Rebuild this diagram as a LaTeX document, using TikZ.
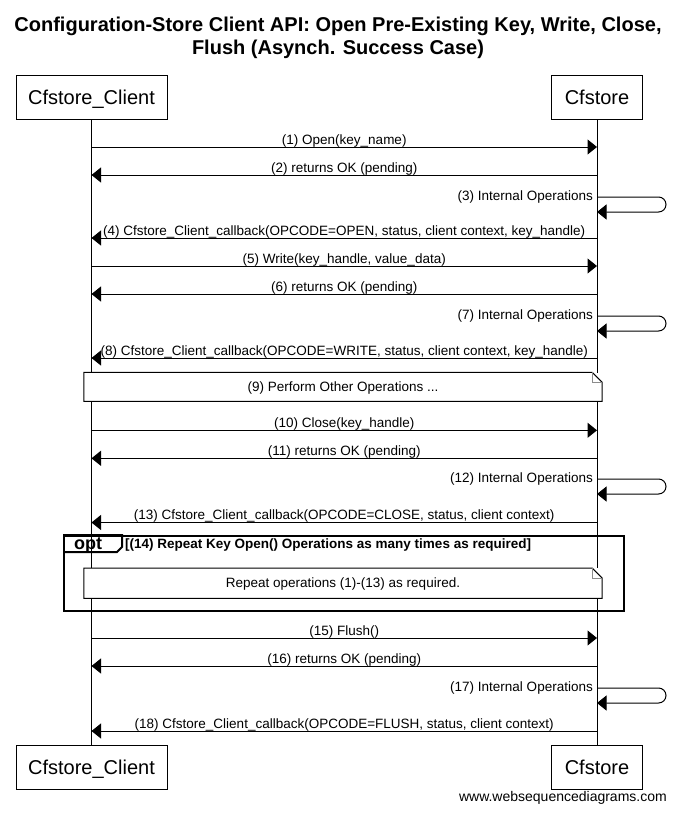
\documentclass[tikz,border=0pt]{standalone}
\usepackage{fontspec}
\setmainfont{Liberation Sans}
\usetikzlibrary{arrows.meta}

% x positions of the two lifelines and the middle between them
\def\xc{91.5}
\def\xs{597}
\def\xm{344.25}

% message from client to store: id, y, label
\newcommand\sdright[3]{%
  \coordinate (#1a) at (\xc,#2);
  \coordinate (#1b) at (\xs,#2);
  \draw[msg] (#1a) -- (#1b);
  \node[msglbl, anchor=base] (#1t) at (\xm,#2-3) {#3};
}
% message from store back to client: id, y, label
\newcommand\sdleft[3]{%
  \coordinate (#1a) at (\xc,#2);
  \coordinate (#1b) at (\xs,#2);
  \draw[msg] (#1b) -- (#1a);
  \node[msglbl, anchor=base] (#1t) at (\xm,#2-3) {#3};
}
% message from the store to itself: id, top y, label
\newcommand\sdself[3]{%
  \coordinate (#1a) at (\xs,#2);
  \coordinate (#1b) at (\xs,#2+15);
  \draw[msg, rounded corners=7.5pt] (#1a) -- ++(69,0) -- ++(0,15) -- (#1b);
  \node[msglbl, anchor=base east] (#1t) at (\xs-4,#2+3) {#3};
}
% note spanning both lifelines, with a folded corner
\newcommand\sdnote[4]{% id, centre y, height, text
  \node[notebox, minimum height=#3] (#1) at (343,#2) {#4};
  \draw[line width=1pt] (#1.north west) -- ([xshift=-10pt]#1.north east)
    -- ([yshift=-10pt]#1.north east) -- (#1.south east) -- (#1.south west) -- cycle;
  \draw[fold] ([xshift=-10pt]#1.north east) |- ([yshift=-10pt]#1.north east);
}

\tikzset{
  actor/.style={draw, line width=1pt, fill=white, minimum height=44pt,
    inner sep=0pt, text height=14.5pt, text depth=0.5pt,
    font=\fontsize{20}{24}\selectfont},
  msg/.style={line width=1pt, -{Triangle[length=9.5pt,width=15pt]}},
  msglbl/.style={font=\fontsize{13.5}{16}\selectfont, inner sep=0pt},
  notebox/.style={fill=white, minimum width=518pt, inner sep=0pt,
    text height=10pt, text depth=1pt, font=\fontsize{13.5}{16}\selectfont},
  fold/.style={line width=1pt, draw=black!45},
  titlefont/.style={font=\bfseries\fontsize{20}{24}\selectfont, inner sep=0pt},
}

\begin{document}
\begin{tikzpicture}[x=1pt,y=-1pt]
\useasboundingbox (0,0) rectangle (675,814);
\fill[white] (0,0) rectangle (675,814);

% title
\node[titlefont, anchor=base] (title1) at (338,31.3)
  {Configuration-Store Client API: Open Pre-Existing Key, Write, Close,};
\node[titlefont, anchor=base] (title2) at (338,54.7)
  {Flush (Asynch. Success Case)};

% participants
\node[actor, minimum width=151pt] (cT) at (\xc,97) {Cfstore\_Client};
\node[actor, minimum width=91pt]  (sT) at (\xs,97) {Cfstore};
\node[actor, minimum width=151pt] (cB) at (\xc,767.2) {Cfstore\_Client};
\node[actor, minimum width=91pt]  (sB) at (\xs,767.2) {Cfstore};

% lifelines
\draw[line width=1pt] (cT.south) -- (cB.north);
\draw[line width=1pt] (sT.south) -- (sB.north);

% messages
\sdright{m1}{147}{(1) Open(key\_name)}
\sdleft{m2}{175}{(2) returns OK (pending)}
\sdself{m3}{197}{(3) Internal Operations}
\sdleft{m4}{238}{(4) Cfstore\_Client\_callback(OPCODE=OPEN, status, client context, key\_handle)}
\sdright{m5}{266}{(5) Write(key\_handle, value\_data)}
\sdleft{m6}{294}{(6) returns OK (pending)}
\sdself{m7}{316}{(7) Internal Operations}
\sdleft{m8}{358}{(8) Cfstore\_Client\_callback(OPCODE=WRITE, status, client context, key\_handle)}

\sdnote{n9}{386.8}{28.5pt}{(9) Perform Other Operations ...}

\sdright{m10}{430.3}{(10) Close(key\_handle)}
\sdleft{m11}{458.3}{(11) returns OK (pending)}
\sdself{m12}{479}{(12) Internal Operations}
\sdleft{m13}{522.5}{(13) Cfstore\_Client\_callback(OPCODE=CLOSE, status, client context)}

% optional fragment
\node[draw, line width=2pt, minimum width=560pt, minimum height=75pt, inner sep=0pt]
  (opt) at (344,573.5) {};
\draw[line width=2pt] (opt.north west) -- ++(59,0) -- ++(0,12) -- ++(-5,5) -- ++(-54,0);
\node[font=\bfseries\fontsize{18}{22}\selectfont, inner sep=0pt, anchor=base]
  (optlbl) at (88,549.5) {opt};
\node[font=\bfseries\fontsize{13.5}{16}\selectfont, inner sep=0pt, anchor=base west]
  (guard) at (125,548) {[(14) Repeat Key Open() Operations as many times as required]};
\sdnote{n14}{583.2}{30pt}{Repeat operations (1)-(13) as required.}

\sdright{m15}{638}{(15) Flush()}
\sdleft{m16}{666}{(16) returns OK (pending)}
\sdself{m17}{688}{(17) Internal Operations}
\sdleft{m18}{731}{(18) Cfstore\_Client\_callback(OPCODE=FLUSH, status, client context)}

% footer
\node[font=\fontsize{14}{16}\selectfont, inner sep=0pt, anchor=base east]
  (site) at (667,801.5) {www.websequencediagrams.com};
\end{tikzpicture}
\end{document}
